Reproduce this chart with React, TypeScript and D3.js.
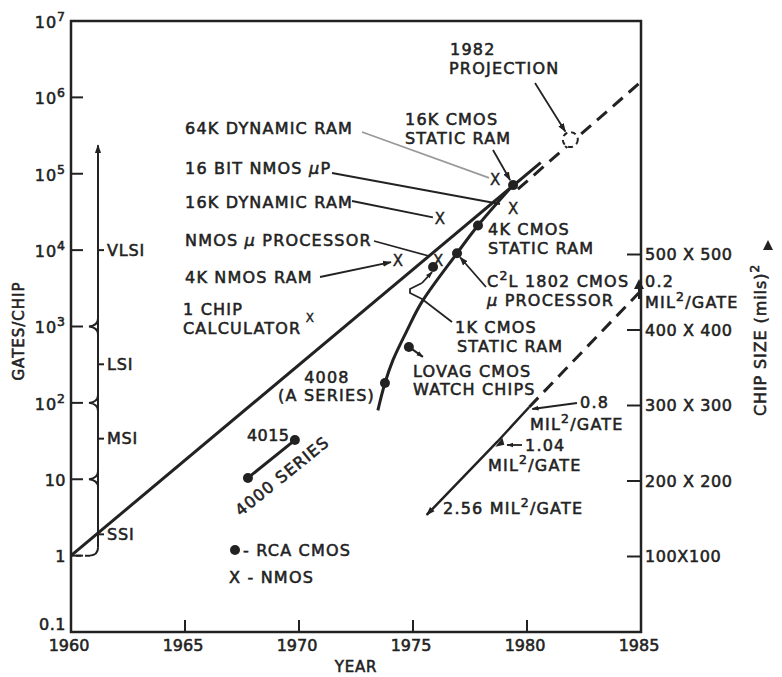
import React from 'react'
import * as d3 from 'd3'

// ---------------------------------------------------------------
// Gates per chip vs year, with integration levels and chip size axis

const INK = '#222'
const FONT = '"DejaVu Sans", "Liberation Sans", sans-serif'

// axes
const yearTicks = [1960, 1965, 1970, 1975, 1980, 1985]
const gateTicks = [0.1, 1, 10, 100, 1e3, 1e4, 1e5, 1e6, 1e7]
const gateTickLabels = ['0.1', '1', '10', '10^2', '10^3', '10^4', '10^5', '10^6', '10^7']
const chipSizeTicks = [100, 200, 300, 400, 500]
const chipSizeLabels = ['100X100', '200 X 200', '300 X 300', '400 X 400', '500 X 500']

// integration levels (left bracket)
const levelNames = ['SSI', 'MSI', 'LSI', 'VLSI']
const levelLabelAt = [1.9, 34, 320, 1e4]
const levelBounds = [10, 100, 1000]
const levelBottom = 1
const levelTop = 3.2e5

// main trend line and projection
const trendYears = [1960, 1980.6]
const trendGates = [1, 1.4e5]
const projYears = [1979.6, 1985]
const projGates = [6.3e4, 1.6e6]
const projCircle = [1981.9, 2.8e5]

// CMOS curve
const cmosYears = [1973.46, 1973.77, 1974.12, 1974.74, 1975.39, 1976.93, 1977.85, 1979.39]
const cmosGates = [80, 182, 363, 890, 2100, 9100, 21000, 71000]

// RCA CMOS points
const cmosPtNames = ['4008', '1K CMOS', 'C2L 1802', '4K CMOS', '16K CMOS', 'LOVAG']
const cmosPtYears = [1973.77, 1975.88, 1976.93, 1977.85, 1979.39, 1974.82]
const cmosPtGates = [182, 6000, 9100, 21000, 71000, 540]

// 4000 series
const seriesYears = [1967.76, 1969.82]
const seriesGates = [10.4, 32.6]

// NMOS points
const nmosNames = ['1 CHIP CALCULATOR', '4K NMOS RAM', 'NMOS uP', '16K DRAM', '64K DRAM', '16 BIT NMOS uP']
const nmosYears = [1970.48, 1974.34, 1976.1, 1976.18, 1978.6, 1979.39]
const nmosGates = [1300, 7400, 7400, 26000, 83000, 35000]

// chip size line (right axis, side in mils)
const chipYears = [1975.6, 1978.7, 1980.1, 1984.9]
const chipSides = [155, 252, 298, 449]
const chipLabels = ['2.56', '1.04', '0.8', '0.2']

const W = 782, H = 677
const margin = { top: 21, right: 141, bottom: 45, left: 71 }
const x = d3.scaleLinear().domain([1960, 1985]).range([margin.left, W - margin.right])
const y = d3.scaleLog().domain([0.1, 1e7]).range([H - margin.bottom, margin.top])
const ySize = d3.scaleLinear().domain([0, 500]).range([H - margin.bottom, 254.5])

const line = d3.line<[number, number]>().x(d => x(d[0])).y(d => y(d[1]))
const curve = d3.line<[number, number]>().x(d => x(d[0])).y(d => y(d[1])).curve(d3.curveCatmullRom.alpha(0.5))
const sizeLine = d3.line<[number, number]>().x(d => x(d[0])).y(d => ySize(d[1]))

const zip = (a: number[], b: number[]) => a.map((v, i) => [v, b[i]] as [number, number])

// text with ^x superscripts and italic mu
function Rich({ x, y, t, size = 16, anchor = 'start', ls = 1.2, transform }: any) {
  const tokens = t.split(/(\^.|μ)/).filter((s: string) => s !== '')
  const sup = Math.round(size * 0.42)
  let raised = false
  const kids = tokens.map((tok: string, i: number) => {
    if (tok.startsWith('^')) {
      raised = true
      return <tspan key={i} dy={-sup} fontSize={size * 0.78}>{tok.slice(1)}</tspan>
    }
    const dy = raised ? sup : undefined
    raised = false
    if (tok === 'μ') return <tspan key={i} dy={dy} fontStyle="italic">μ</tspan>
    return <tspan key={i} dy={dy}>{tok}</tspan>
  })
  return (
    <text x={x} y={y + size * 0.36} fontSize={size} textAnchor={anchor} letterSpacing={ls}
      fill={INK} stroke={INK} strokeWidth={0.55} transform={transform}>
      {kids}
    </text>
  )
}

const Xmark = ({ year, gates, size = 15 }: any) => (
  <text x={x(year)} y={y(gates) + size * 0.36} fontSize={size} textAnchor="middle" fill={INK}
    stroke={INK} strokeWidth={0.4}>X</text>
)

export default function App() {
  const [x0, x1] = x.range()
  const [yb, yt] = y.range()
  const bx = 98 // bracket line x

  const brace = (yy: number) => `M${bx},${yy - 8} Q${bx},${yy - 1} ${bx - 9},${yy} Q${bx},${yy + 1} ${bx},${yy + 8}`

  const cmosPts = cmosPtNames.map((n, i) => ({ n, px: x(cmosPtYears[i]), py: y(cmosPtGates[i]) }))
  const chip = chipYears.map((yr, i) => ({ px: x(yr), py: ySize(chipSides[i]) }))

  return (
    <svg width={W} height={H} style={{ position: 'absolute', left: 0, top: 0, background: '#fff', fontFamily: FONT }}>
      <defs>
        <marker id="ah" viewBox="0 0 10 10" refX="9" refY="5" markerWidth="9" markerHeight="9"
          markerUnits="userSpaceOnUse" orient="auto-start-reverse">
          <path d="M0,1.5 L10,5 L0,8.5 z" fill={INK} />
        </marker>
        <marker id="ahs" viewBox="0 0 10 10" refX="9" refY="5" markerWidth="7" markerHeight="7"
          markerUnits="userSpaceOnUse" orient="auto-start-reverse">
          <path d="M0,1.5 L10,5 L0,8.5 z" fill={INK} />
        </marker>
      </defs>

      {/* frame */}
      <rect x={x0} y={yt} width={x1 - x0} height={yb - yt} fill="none" stroke={INK} strokeWidth={2.5} />

      {/* left ticks + labels */}
      {gateTicks.map((g, i) => (
        <g key={g}>
          {i > 0 && i < gateTicks.length - 1 && <line x1={x0} x2={x0 + 12} y1={y(g)} y2={y(g)} stroke={INK} strokeWidth={2} />}
          <Rich x={x0 - 5} y={i === 0 ? y(g) - 8 : y(g) + 1} t={gateTickLabels[i]} anchor="end" ls={i > 2 ? 1 : 0.5} />
        </g>
      ))}

      {/* bottom ticks + labels */}
      {yearTicks.map((yr, i) => (
        <g key={yr}>
          {i > 0 && i < yearTicks.length - 1 && <line x1={x(yr)} x2={x(yr)} y1={yb} y2={yb - 12} stroke={INK} strokeWidth={2} />}
          <Rich x={x(yr) - 2} y={645} t={String(yr)} anchor="middle" ls={0} />
        </g>
      ))}
      <Rich x={356} y={667} t="YEAR" anchor="middle" size={15} ls={0.8} />
      <Rich x={0} y={0} t="GATES/CHIP" anchor="middle" size={15} ls={1} transform="translate(19,331) rotate(-90)" />

      {/* right axis: chip size */}
      {chipSizeTicks.map((s, i) => (
        <g key={s}>
          <line x1={x1 - 14} x2={x1} y1={ySize(s)} y2={ySize(s)} stroke={INK} strokeWidth={2} />
          <Rich x={x1 + 4} y={ySize(s)} t={chipSizeLabels[i]} ls={0.6} />
        </g>
      ))}
      <Rich x={0} y={0} t="CHIP SIZE (mils)^2" anchor="middle" size={16} ls={0.9} transform="translate(760,340) rotate(-90)" />
      <path d="M768,240 L773,250 L763,250 z" fill={INK} />

      {/* integration level bracket */}
      <line x1={bx} x2={bx} y1={y(levelBottom) - 8} y2={y(levelTop) + 10} stroke={INK} strokeWidth={2} markerEnd="url(#ah)" />
      {levelBounds.map(b => <path key={b} d={brace(y(b))} fill="none" stroke={INK} strokeWidth={2} />)}
      <path d={`M${bx},${y(levelBottom) - 8} Q${bx},${y(levelBottom) - 1} ${bx - 8},${y(levelBottom)}`} fill="none" stroke={INK} strokeWidth={2} />
      <line x1={bx - 8} x2={x0 + 3} y1={y(levelBottom)} y2={y(levelBottom)} stroke={INK} strokeWidth={2} strokeDasharray="5 4" />
      {levelNames.map((n, i) => (
        <g key={n}>
          <line x1={bx} x2={bx + 6} y1={y(levelLabelAt[i])} y2={y(levelLabelAt[i])} stroke={INK} strokeWidth={2} />
          <Rich x={bx + 9} y={y(levelLabelAt[i])} t={n} ls={0.8} />
        </g>
      ))}

      {/* main trend */}
      <path d={line(zip(trendYears, trendGates))!} fill="none" stroke={INK} strokeWidth={3} />
      <path d={line(zip(projYears, projGates))!} fill="none" stroke={INK} strokeWidth={3} strokeDasharray="13 8" />
      <circle cx={x(projCircle[0])} cy={y(projCircle[1])} r={7.5} fill="#fff" stroke={INK} strokeWidth={2} strokeDasharray="5 4" />

      {/* CMOS curve */}
      <path d={curve(zip(cmosYears, cmosGates))!} fill="none" stroke={INK} strokeWidth={3} />
      {cmosPts.map(p => <circle key={p.n} cx={p.px} cy={p.py} r={5} fill={INK} />)}
      <line x1={cmosPts[5].px} y1={cmosPts[5].py} x2={cmosPts[5].px + 14} y2={cmosPts[5].py + 10} stroke={INK} strokeWidth={2} markerEnd="url(#ahs)" />

      {/* 4000 series */}
      <path d={line(zip(seriesYears, seriesGates))!} fill="none" stroke={INK} strokeWidth={3} />
      {seriesYears.map((yr, i) => <circle key={yr} cx={x(yr)} cy={y(seriesGates[i])} r={5} fill={INK} />)}

      {/* NMOS markers */}
      {nmosNames.map((n, i) => <Xmark key={n} year={nmosYears[i]} gates={nmosGates[i]} size={i === 0 ? 12 : 15} />)}

      {/* chip size line */}
      <path d={sizeLine(zip(chipYears.slice(0, 3), chipSides.slice(0, 3)))!} fill="none" stroke={INK} strokeWidth={2.5} markerStart="url(#ah)" />
      <path d={sizeLine(zip(chipYears.slice(2), chipSides.slice(2)))!} fill="none" stroke={INK} strokeWidth={3} strokeDasharray="13 8" />
      <path d={`M${chip[1].px - 2},${chip[1].py + 5} l7,-9 l2,7 z`} fill={INK} />
      <path d={`M${x1 - 2},${chip[3].py - 14} l5,10 l-10,0 z`} fill={INK} />
      <line x1={x1 - 2} x2={x1 - 2} y1={chip[3].py - 6} y2={chip[3].py + 6} stroke={INK} strokeWidth={2} />

      {/* chip size annotations */}
      <Rich x={443} y={508} t={`${chipLabels[0]} MIL^2/GATE`} />
      <line x1={522} y1={445} x2={507} y2={445} stroke={INK} strokeWidth={1.8} markerEnd="url(#ahs)" />
      <Rich x={525} y={445} t={chipLabels[1]} />
      <Rich x={488} y={465} t="MIL^2/GATE" />
      <line x1={577} y1={403} x2={chip[2].px + 3} y2={chip[2].py + 2} stroke={INK} strokeWidth={1.8} markerEnd="url(#ahs)" />
      <Rich x={580} y={402} t={chipLabels[2]} />
      <Rich x={530} y={424} t="MIL^2/GATE" />
      <Rich x={645} y={281} t={chipLabels[3]} />
      <Rich x={645} y={302} t="MIL^2/GATE" />

      {/* NMOS leader lines + labels */}
      <line x1={362} y1={132} x2={x(nmosYears[4]) - 6} y2={y(nmosGates[4]) - 2} stroke="#9a9a9a" strokeWidth={1.8} />
      <Rich x={185} y={128.5} t="64K DYNAMIC RAM" />
      <line x1={332} y1={173} x2={500} y2={204} stroke={INK} strokeWidth={1.8} />
      <Rich x={185} y={168} t="16 BIT NMOS μP" />
      <line x1={352} y1={201} x2={x(nmosYears[3]) - 7} y2={y(nmosGates[3]) - 1} stroke={INK} strokeWidth={1.8} />
      <Rich x={185} y={202} t="16K DYNAMIC RAM" />
      <line x1={374} y1={241} x2={429} y2={256} stroke={INK} strokeWidth={1.8} />
      <Rich x={185} y={240} t="NMOS μ PROCESSOR" />
      <line x1={320} y1={277} x2={x(nmosYears[1]) - 7} y2={y(nmosGates[1]) + 2} stroke={INK} strokeWidth={1.8} markerEnd="url(#ah)" />
      <Rich x={185} y={277} t="4K NMOS RAM" />
      <Rich x={183} y={309} t="1 CHIP" />
      <Rich x={183} y={328} t="CALCULATOR" />

      {/* CMOS labels */}
      <Rich x={450} y={49} t="1982" />
      <Rich x={449} y={68} t="PROJECTION" />
      <line x1={535} y1={83} x2={x(projCircle[0]) - 5} y2={y(projCircle[1]) - 8} stroke={INK} strokeWidth={1.8} markerEnd="url(#ah)" />
      <Rich x={405} y={119} t="16K CMOS" />
      <Rich x={405} y={138} t="STATIC RAM" />
      <line x1={493} y1={150} x2={cmosPts[4].px - 3} y2={cmosPts[4].py - 5} stroke={INK} strokeWidth={1.8} markerEnd="url(#ah)" />
      <Rich x={488} y={229} t="4K CMOS" />
      <Rich x={488} y={248} t="STATIC RAM" />
      <line x1={486} y1={287} x2={cmosPts[2].px + 3} y2={cmosPts[2].py + 4} stroke={INK} strokeWidth={1.8} markerEnd="url(#ah)" />
      <Rich x={487} y={281} t="C^2L 1802 CMOS" />
      <Rich x={487} y={300} t="μ PROCESSOR" />
      <path d="M452,322 L422,299 L410,293 L410,289 L422,283" fill="none" stroke={INK} strokeWidth={1.8} />
      <line x1={422} y1={283} x2={cmosPts[1].px - 1} y2={cmosPts[1].py + 5} stroke={INK} strokeWidth={1.8} markerEnd="url(#ahs)" />
      <Rich x={455} y={327} t="1K CMOS" />
      <Rich x={457} y={346} t="STATIC RAM" />
      <Rich x={413} y={371} t="LOVAG CMOS" />
      <Rich x={413} y={389} t="WATCH CHIPS" />
      <Rich x={327} y={377} t="4008" anchor="middle" />
      <Rich x={375} y={395} t="(A SERIES)" anchor="end" />
      <Rich x={247} y={435} t="4015" ls={0.4} />
      <Rich x={0} y={0} t="4000 SERIES" anchor="middle" transform="translate(282,476) rotate(-39)" />

      {/* legend */}
      <circle cx={235} cy={550} r={5} fill={INK} />
      <Rich x={243} y={550} t="- RCA CMOS" />
      <Rich x={229} y={577} t="X - NMOS" />
    </svg>
  )
}
